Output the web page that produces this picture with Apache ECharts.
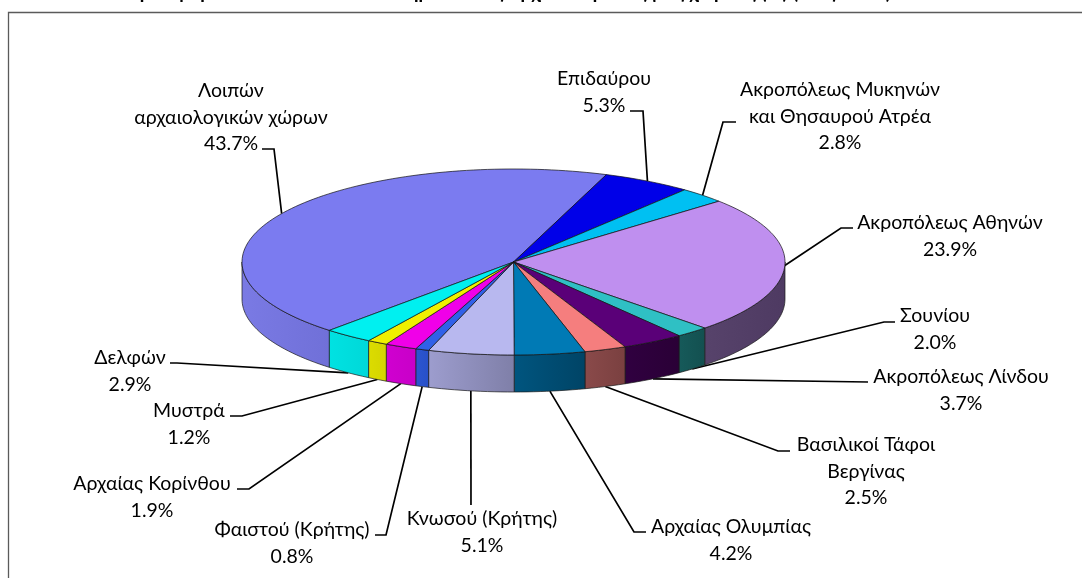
<!DOCTYPE html>
<html><head><meta charset="utf-8">
<style>html,body{margin:0;padding:0;background:#fff;overflow:hidden}#c{width:1082px;height:578px}</style>
<script src="https://cdn.jsdelivr.net/npm/echarts@6/dist/echarts.min.js"></script>
</head><body><div id="c"></div>
<script>
const categories = ['Λοιπών\nαρχαιολογικών χώρων','Επιδαύρου','Ακροπόλεως Μυκηνών\nκαι Θησαυρού Ατρέα','Ακροπόλεως Αθηνών','Σουνίου','Ακροπόλεως Λίνδου','Βασιλικοί Τάφοι\nΒεργίνας','Αρχαίας Ολυμπίας','Κνωσού (Κρήτης)','Φαιστού (Κρήτης)','Αρχαίας Κορίνθου','Μυστρά','Δελφών'];
const values = [43.7,5.3,2.8,23.9,2.0,3.7,2.5,4.2,5.1,0.8,1.9,1.2,2.9];
const topColors = ['#7B7BF0','#0000E8','#00C0F2','#BF8FEF','#2FC0C4','#5A0078','#F57E7E','#007AB5','#B8B8EF','#3060E8','#F000E8','#F0F000','#00F0F0'];
const sideLight = ['#7A7AE4','#0000B0','#0090B8','#57436B','#165A5A','#300040','#8A4A4A','#00557F','#9D9DCE','#2C56D0','#D000D0','#DCDC00','#00E2E2'];
const sideDark  = ['#7070D8','#0000A0','#0088B0','#4E3A62','#135050','#2A0036','#7A4040','#004466','#7F7FA8','#2850C8','#C800C8','#D4D400','#00D8D8'];

// pie geometry
const cx = 513.5, cy = 262, rx = 271.5, ry = 93, depth = 37, startDeg = 222.7;
// label layout: centre x, first line centre y, leader points from the text to the elbow
const labelX = [231,604,840,950,935,961,866,731,482,292,152,189,130];
const labelY = [91,79,90,223,316,377,445,527,519,530,484,411,358];
const leaders = [
  [[262,149],[274,149]],[[630,111],[643,111]],[[736,122],[723,122]],[[853,228],[841,228]],
  [[895,322],[884,322]],[[868,382]],[[790,451],[778,451]],[[646,532],[634,532]],
  [[471,505]],[[375,535],[386,535]],[[237,489],[249,489]],[[230,416],[242,416]],[[170,363],[177,363]]
];
const total = values.reduce((a,b)=>a+b,0);
const cumulative = []; values.reduce((a,b,i)=>(cumulative[i]=a,a+b),0);
const FONT = 'Lato, "Noto Sans", sans-serif';

function pt(deg, dy){const r=deg*Math.PI/180;return [cx+rx*Math.sin(r), cy-ry*Math.cos(r)+(dy||0)];}
function arc(a,b,dy){const n=Math.max(2,Math.ceil((b-a)/1.5));const o=[];for(let i=0;i<=n;i++)o.push(pt(a+(b-a)*i/n,dy));return o;}

function renderItem(params, api){
  const i = params.dataIndex, v = api.value(0);
  const s = startDeg + cumulative[i]/total*360, e = s + v/total*360, kids = [];
  [[90,270],[450,630]].forEach(([f,t])=>{
    const a=Math.max(s,f), b=Math.min(e,t);
    if(b>a){
      const top=arc(a,b,0), bot=arc(a,b,depth).reverse();
      kids.push({type:'polygon',z2:1,shape:{points:top.concat(bot)},style:{
        fill:new echarts.graphic.LinearGradient(0,0,1,0,[{offset:0,color:sideLight[i]},{offset:1,color:sideDark[i]}]),
        stroke:'#1a1a1a',lineWidth:0.7}});
    }
  });
  kids.push({type:'polygon',z2:2,shape:{points:[[cx,cy]].concat(arc(s,e,0))},style:{fill:topColors[i],stroke:'#111',lineWidth:0.7}});
  const mid=((s+e)/2)%360, anchor=pt(mid,(mid>100&&mid<260)?depth:0);
  kids.push({type:'polyline',z2:0,shape:{points:leaders[i].concat([anchor])},style:{fill:null,stroke:'#000',lineWidth:1.7}});
  kids.push({type:'text',z2:4,x:labelX[i],y:labelY[i]-13.3,style:{text:categories[i]+'\n'+v.toFixed(1)+'%',fill:'#000',font:'19.5px '+FONT,textAlign:'center',textVerticalAlign:'top',lineHeight:26.6}});
  return {type:'group',children:kids};
}

const chart = echarts.init(document.getElementById('c'),null,{renderer:'canvas'});
chart.setOption({
  animation:false,
  backgroundColor:'#fff',
  title:{text:'Προσφορά εσόδων από τα εισιτήρια στους αρχαιολογικούς μας χώρους (%) (έτος 2009)',left:125,top:-17,padding:0,textStyle:{fontFamily:FONT,fontWeight:'bold',fontSize:19.5,color:'#000'}},
  graphic:[{type:'rect',silent:true,shape:{x:8.5,y:12.5,width:1300,height:800},style:{fill:null,stroke:'#5a5a5a',lineWidth:1.3}}],
  series:[{type:'custom',coordinateSystem:'none',silent:true,data:values,renderItem:renderItem}]
});
</script></body></html>
